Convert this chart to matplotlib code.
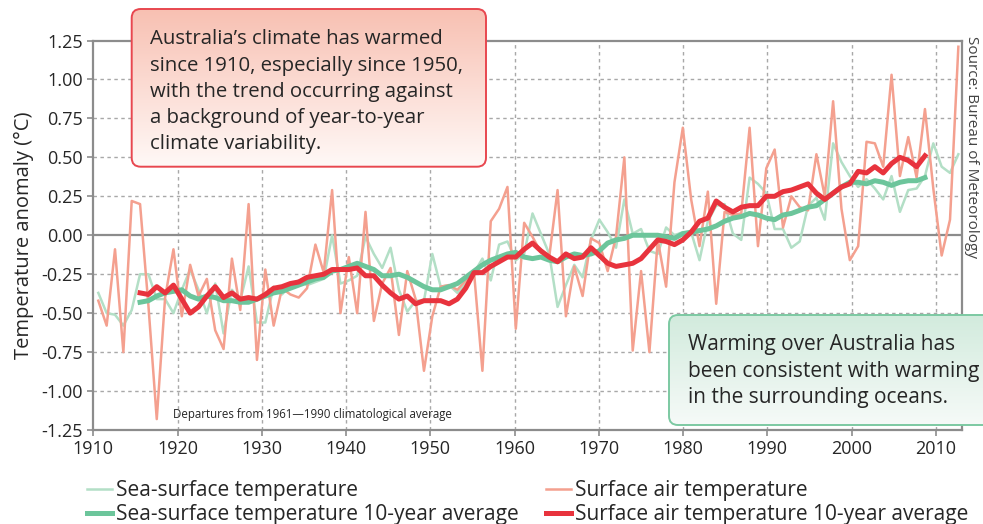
import numpy as np
import matplotlib
matplotlib.use("Agg")
import matplotlib.pyplot as plt
from matplotlib.patches import FancyBboxPatch

plt.rcParams['font.family'] = ['Open Sans', 'DejaVu Sans']

# ---------------- data ----------------
years = list(range(1910, 2014))
surface_air = [
    -0.42, -0.58, -0.09, -0.75, 0.22, 0.20, -0.45, -1.18, -0.40, -0.09,
    -0.52, -0.19, -0.39, -0.28, -0.61, -0.73, -0.15, -0.48, 0.20, -0.80,
    -0.22, -0.58, -0.34, -0.38, -0.40, -0.34, -0.06, -0.24, 0.29, -0.50,
    -0.14, -0.50, 0.15, -0.55, -0.31, -0.21, -0.64, -0.23, -0.41, -0.87,
    -0.52, -0.33, -0.32, -0.35, -0.29, -0.24, -0.87, 0.09, 0.17, 0.31,
    -0.60, 0.08, -0.01, -0.11, -0.14, 0.29, -0.52, -0.20, -0.39, -0.02,
    -0.05, -0.23, -0.01, 0.50, -0.74, -0.23, -0.75, -0.03, -0.33, 0.34,
    0.69, 0.23, -0.07, 0.28, -0.44, 0.15, 0.13, 0.14, 0.69, -0.07,
    0.43, 0.55, 0.05, 0.25, 0.18, 0.16, 0.52, 0.25, 0.86, 0.17,
    -0.16, -0.07, 0.60, 0.59, 0.44, 1.03, 0.38, 0.63, 0.37, 0.81,
    0.30, -0.13, 0.10, 1.21]
sea_surface = [
    -0.37, -0.50, -0.51, -0.58, -0.48, -0.25, -0.25, -0.41, -0.41, -0.50,
    -0.35, -0.22, -0.35, -0.50, -0.31, -0.63, -0.35, -0.42, -0.20, -0.56,
    -0.56, -0.33, -0.38, -0.32, -0.29, -0.32, -0.30, -0.28, 0.00, -0.31,
    -0.29, -0.26, -0.01, -0.12, -0.21, -0.08, -0.35, -0.49, -0.42, -0.42,
    -0.12, -0.33, -0.32, -0.37, -0.31, -0.24, -0.15, -0.29, -0.06, -0.04,
    -0.16, -0.12, 0.14, 0.01, -0.12, -0.46, -0.32, -0.19, -0.27, -0.03,
    0.10, 0.02, -0.08, 0.23, 0.01, 0.04, -0.10, -0.12, 0.05, 0.00,
    0.02, 0.02, -0.16, 0.09, 0.19, 0.20, 0.01, -0.03, 0.37, 0.33,
    0.27, 0.04, 0.04, -0.08, -0.04, 0.19, 0.24, 0.10, 0.59, 0.47,
    0.38, 0.31, 0.36, 0.30, 0.23, 0.38, 0.15, 0.29, 0.30, 0.38,
    0.59, 0.44, 0.40, 0.52]

avg_years = list(range(1915, 2010))
sea_surface_10yr = [
    -0.43, -0.42, -0.39, -0.37, -0.36, -0.35, -0.39, -0.41, -0.39, -0.40,
    -0.42, -0.42, -0.43, -0.43, -0.41, -0.39, -0.37, -0.36, -0.34, -0.32,
    -0.30, -0.28, -0.27, -0.23, -0.22, -0.20, -0.18, -0.20, -0.22, -0.26,
    -0.26, -0.25, -0.27, -0.30, -0.33, -0.35, -0.35, -0.33, -0.31, -0.27,
    -0.23, -0.19, -0.16, -0.14, -0.12, -0.11, -0.14, -0.15, -0.14, -0.16,
    -0.17, -0.14, -0.12, -0.13, -0.12, -0.10, -0.05, -0.03, -0.02, 0.00,
    0.00, 0.00, 0.00, -0.01, -0.02, 0.01, 0.02, 0.03, 0.04, 0.06,
    0.09, 0.11, 0.12, 0.14, 0.13, 0.11, 0.10, 0.13, 0.14, 0.16,
    0.18, 0.19, 0.23, 0.27, 0.31, 0.34, 0.34, 0.33, 0.35, 0.34,
    0.32, 0.34, 0.35, 0.35, 0.37]
surface_air_10yr = [
    -0.37, -0.38, -0.33, -0.37, -0.32, -0.41, -0.50, -0.46, -0.39, -0.33,
    -0.40, -0.37, -0.41, -0.40, -0.41, -0.38, -0.34, -0.33, -0.31, -0.30,
    -0.27, -0.26, -0.25, -0.22, -0.22, -0.22, -0.21, -0.26, -0.26, -0.32,
    -0.37, -0.41, -0.39, -0.44, -0.42, -0.42, -0.42, -0.44, -0.41, -0.34,
    -0.24, -0.24, -0.20, -0.17, -0.14, -0.14, -0.09, -0.05, -0.10, -0.14,
    -0.17, -0.12, -0.15, -0.14, -0.08, -0.13, -0.18, -0.20, -0.19, -0.18,
    -0.15, -0.09, -0.03, -0.04, -0.06, -0.03, 0.02, 0.09, 0.11, 0.22,
    0.18, 0.15, 0.18, 0.19, 0.19, 0.25, 0.25, 0.28, 0.29, 0.31,
    0.33, 0.27, 0.23, 0.27, 0.31, 0.33, 0.41, 0.40, 0.44, 0.40,
    0.46, 0.50, 0.48, 0.44, 0.51]

tick_labels = ['1910', '1920', '1930', '1940', '1950', '1960',
               '1970', '1980', '1990', '2000', '2010']
y_ticks = [1.25, 1.00, 0.75, 0.50, 0.25, 0.00, -0.25, -0.50, -0.75, -1.00, -1.25]

# ---------------- styling ----------------
C_SST = '#b3dfc6'
C_SAT = '#f4a08f'
C_SST10 = '#6cc59b'
C_SAT10 = '#e8333d'
GRID = '#a8a8a8'
SPINE = '#8c8c8c'
TXT = '#262626'

W, H = 983, 524
fig = plt.figure(figsize=(W / 100, H / 100), dpi=100)
ax = fig.add_axes([93.3 / W, 1 - 430 / H, (961.7 - 93.3) / W, (430 - 40.5) / H])

ax.set_xlim(1909.4, 2013.4)
ax.set_ylim(-1.25, 1.25)

# decade ticks (chart's label axis is spaced slightly wider than the data axis)
x_step = 10.09
x_ticks = [1909.4 + x_step * i for i in range(len(tick_labels))]
ax.set_xticks(x_ticks)
ax.set_xticklabels(tick_labels)
ax.set_yticks(y_ticks)
ax.set_yticklabels([f'{v:.2f}' for v in y_ticks])

for v in y_ticks:
    if v not in (0.0, 1.25, -1.25):
        ax.axhline(v, color=GRID, lw=1.0, ls=(0, (2.5, 2.5)), zorder=1)
for xt in x_ticks[1:]:
    ax.axvline(xt, color=GRID, lw=1.0, ls=(0, (2.5, 2.5)), zorder=1)
ax.axhline(0, color=SPINE, lw=1.6, zorder=1.5)

for s in ax.spines.values():
    s.set_color(SPINE)
    s.set_linewidth(1.6)
ax.tick_params(axis='both', colors=SPINE, labelcolor=TXT, length=4, width=1.2,
               labelsize=13)
ax.tick_params(axis='x', pad=3)

ax.set_ylabel('Temperature anomaly (°C)', fontsize=14.5, color=TXT, labelpad=5)

l_sst, = ax.plot(years, sea_surface, color=C_SST, lw=1.8, zorder=2,
                 label='Sea-surface temperature')
l_sat, = ax.plot(years, surface_air, color=C_SAT, lw=1.8, zorder=2.1,
                 label='Surface air temperature')
l_sst10, = ax.plot(avg_years, sea_surface_10yr, color=C_SST10, lw=3.6, zorder=3,
                   solid_joinstyle='round', label='Sea-surface temperature 10-year average')
l_sat10, = ax.plot(avg_years, surface_air_10yr, color=C_SAT10, lw=3.6, zorder=3.1,
                   solid_joinstyle='round', label='Surface air temperature 10-year average')

# legends
leg_kw = dict(frameon=False, fontsize=15, handlelength=1.2, handletextpad=0.2,
              labelspacing=0.15, borderpad=0, borderaxespad=0, labelcolor=TXT)
fig.legend(handles=[l_sst, l_sst10], loc='upper left',
           bbox_to_anchor=(87 / W, 1 - 480 / H), **leg_kw)
fig.legend(handles=[l_sat, l_sat10], loc='upper left',
           bbox_to_anchor=(546 / W, 1 - 480 / H), **leg_kw)

# ---------------- overlay (pixel coordinates) ----------------
ov = fig.add_axes([0, 0, 1, 1], zorder=10)
ov.set_xlim(0, W)
ov.set_ylim(H, 0)
ov.axis('off')
ov.patch.set_alpha(0)


def grad_box(x0, y0, x1, y1, top_rgb, bot_rgb, edge):
    n = 200
    t = np.linspace(0, 1, n)[:, None]
    top = np.array(top_rgb) / 255.0
    bot = np.array(bot_rgb) / 255.0
    img = (top[None, :] * (1 - t) + bot[None, :] * t)[:, None, :]
    box = FancyBboxPatch((x0, y0), x1 - x0, y1 - y0,
                         boxstyle='round,pad=0,rounding_size=9',
                         facecolor='none', edgecolor=edge, lw=1.4, zorder=3)
    ov.add_patch(box)
    im = ov.imshow(img, extent=[x0, x1, y1, y0], origin='upper',
                   aspect='auto', zorder=2, interpolation='bilinear')
    im.set_clip_path(box)


grad_box(131.7, 9, 486, 166.7, (248, 192, 178), (255, 249, 247), '#e8474f')
grad_box(669, 315, 1000, 425, (210, 235, 221), (246, 250, 248), '#7cc9a2')
ov.set_xlim(0, W)
ov.set_ylim(H, 0)

box1 = ["Australia\u2019s climate has warmed",
        "since 1910, especially since 1950,",
        "with the trend occurring against",
        "a background of year-to-year",
        "climate variability."]
for i, s in enumerate(box1):
    ov.text(150, 44.3 + 26.2 * i, s, fontsize=14.7, color=TXT, va='baseline',
            ha='left', zorder=5)

box2 = ["Warming over Australia has",
        "been consistent with warming",
        "in the surrounding oceans."]
for i, s in enumerate(box2):
    ov.text(688, 350 + 26.7 * i, s, fontsize=15, color=TXT, va='baseline',
            ha='left', zorder=5)

ov.text(173, 418, 'Departures from 1961\u20141990 climatological average',
        fontsize=8.3, color=TXT, va='baseline', ha='left', zorder=5)

ov.text(971, 147, 'Source: Bureau of Meteorology', rotation=270, fontsize=11,
        color='#444444', ha='center', va='center', zorder=5)

fig.savefig('out.png', dpi=100)
